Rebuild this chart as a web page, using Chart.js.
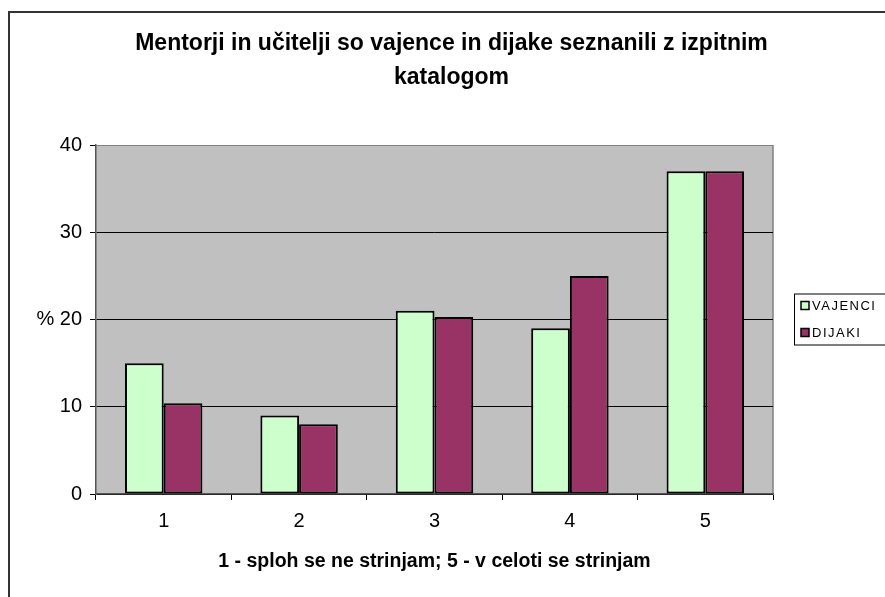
<!DOCTYPE html>
<html>
<head>
<meta charset="utf-8">
<script src="https://cdn.jsdelivr.net/npm/chart.js@4/dist/chart.umd.min.js"></script>
<style>
    html, body { margin: 0; padding: 0; background: #fff; overflow: hidden; }
    #wrap { position: relative; width: 885px; height: 597px; }
    #frame {
        position: absolute; left: 8px; top: 11px; width: 900px; height: 600px;
        border-left: 2px solid #333; border-top: 2px solid #333; pointer-events: none;
    }
</style>
</head>
<body>
<div id="wrap">
    <canvas id="chart" width="885" height="597"></canvas>
    <div id="frame"></div>
</div>
<script>
// chart data
const categories = ['1', '2', '3', '4', '5'];
const seriesNames = ['VAJENCI', 'DIJAKI'];
const vajenci = [15, 9, 21, 19, 37];
const dijaki = [10.4, 8, 20.3, 25, 37];
const yTicks = [0, 10, 20, 30, 40];

const FONT = 'Arial, "Liberation Sans", sans-serif';

// grey plot background + right border
const plotBackground = {
    id: 'plotBackground',
    beforeDraw(chart) {
        const { ctx, chartArea: a } = chart;
        ctx.save();
        ctx.fillStyle = '#c0c0c0';
        ctx.fillRect(a.left, a.top, a.right - a.left, a.bottom - a.top);
        ctx.strokeStyle = '#808080';
        ctx.lineWidth = 1.5;
        ctx.beginPath();
        ctx.moveTo(a.right, a.top);
        ctx.lineTo(a.right, a.bottom);
        ctx.stroke();
        ctx.restore();
    }
};

// boxed legend to the right of the plot
const boxLegend = {
    id: 'boxLegend',
    afterDraw(chart) {
        const { ctx, chartArea: a } = chart;
        const x = a.right + 21;
        const midY = (a.top + a.bottom) / 2;
        const top = midY - 26;
        ctx.save();
        ctx.strokeStyle = '#000';
        ctx.lineWidth = 1;
        ctx.strokeRect(x + 0.5, top + 0.5, 120, 51);
        ctx.font = '13px ' + FONT;
        ctx.letterSpacing = '1.5px';
        ctx.textBaseline = 'middle';
        chart.data.datasets.forEach((ds, i) => {
            const cy = top + 12 + i * 27;
            ctx.fillStyle = ds.backgroundColor;
            ctx.fillRect(x + 7, cy - 4, 8, 8);
            ctx.strokeStyle = '#000';
            ctx.lineWidth = 1.5;
            ctx.strokeRect(x + 7, cy - 4, 8, 8);
            ctx.fillStyle = '#000';
            ctx.fillText(ds.label, x + 18, cy + 1);
        });
        ctx.restore();
    }
};

new Chart(document.getElementById('chart'), {
    type: 'bar',
    data: {
        labels: categories,
        datasets: [{
            label: seriesNames[0],
            data: vajenci,
            backgroundColor: '#ccffcc',
            borderColor: '#000',
            borderWidth: 2,
            borderSkipped: false
        }, {
            label: seriesNames[1],
            data: dijaki,
            backgroundColor: '#993366',
            borderColor: '#000',
            borderWidth: 2,
            borderSkipped: false
        }]
    },
    options: {
        responsive: false,
        animation: false,
        layout: { padding: { left: 18, right: 0, top: 0, bottom: 0 } },
        datasets: {
            bar: { categoryPercentage: 0.572, barPercentage: 1 }
        },
        plugins: {
            legend: { display: false },
            tooltip: { enabled: false },
            title: {
                display: true,
                text: ['Mentorji in učitelji so vajence in dijake seznanili z izpitnim', 'katalogom'],
                color: '#000',
                font: { family: FONT, size: 23, weight: 'bold', lineHeight: '34px' },
                padding: { top: 27, bottom: 50 }
            }
        },
        scales: {
            x: {
                grid: { offset: true, drawOnChartArea: false, drawTicks: true, tickLength: 6, color: '#000' },
                border: { color: '#555', width: 1.5 },
                ticks: { color: '#000', font: { family: FONT, size: 20 }, padding: 9 },
                title: {
                    display: true,
                    text: '1 - sploh se ne strinjam; 5 - v celoti se strinjam',
                    color: '#000',
                    font: { family: FONT, size: 19.5, weight: 'bold' },
                    padding: { top: 0, bottom: 24 }
                },
                afterFit(scale) { scale.height = 103; }
            },
            y: {
                min: 0,
                max: 40,
                afterBuildTicks(scale) { scale.ticks = yTicks.map(v => ({ value: v })); },
                grid: {
                    color: ctx => ctx.tick && ctx.tick.value === 40 ? '#808080' : '#000',
                    tickColor: '#000',
                    tickLength: 6,
                    lineWidth: 1
                },
                border: { color: '#555', width: 1.5 },
                ticks: {
                    color: '#000',
                    font: { family: FONT, size: 20 },
                    padding: 8,
                    callback: v => v === 20 ? '% 20' : String(v)
                },
                afterFit(scale) { scale.width = 78; }
            },
            // empty right-hand strip that leaves room for the legend
            side: {
                position: 'right',
                grid: { display: false },
                border: { display: false },
                ticks: { display: false },
                afterFit(scale) { scale.width = 112; }
            }
        }
    },
    plugins: [plotBackground, boxLegend]
});
</script>
</body>
</html>
